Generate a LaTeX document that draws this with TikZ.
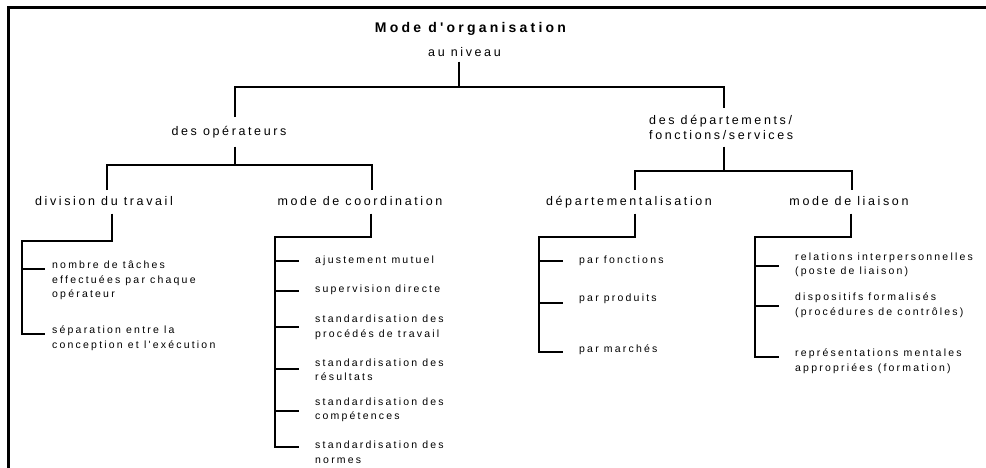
\documentclass[tikz,border=0pt]{standalone}
\usepackage{fontspec}
\setmainfont{Liberation Sans}
\newfontfamily\spfont[LetterSpace=21]{Liberation Sans}
\newfontfamily\tspfont[LetterSpace=23]{Liberation Sans}
\begin{document}
\begin{tikzpicture}[x=1pt,y=-1pt,
  ln/.style={line width=1.5pt},
  ttl/.style={font=\tspfont\bfseries\fontsize{14}{16}\selectfont, inner sep=0pt},
  hd/.style={font=\spfont\fontsize{12.5}{15}\selectfont, inner sep=0pt, text height=9pt, text depth=2.5pt, outer ysep=6pt},
  hd2/.style={font=\spfont\fontsize{12.5}{15}\selectfont, inner sep=0pt, align=left, outer ysep=7pt},
  itm/.style={font=\spfont\fontsize{10.5}{14.5}\selectfont, inner sep=0pt, anchor=west, align=left},
]
\useasboundingbox (0,0) rectangle (986,468);
% frame
\draw[line width=3pt] (8,468) -- (8,8) -- (986,8);

% headings
\node[ttl] (title) at (470.5,29) {Mode d'organisation};
\node[hd, outer ysep=3pt] (auniv) at (464.5,53) {au niveau};
\node[hd, outer ysep=9pt] (ope) at (229,132) {des opérateurs};
\node[hd2, anchor=west] (dep) at (649,127.5) {des départements/\\fonctions/services};
\node[hd] (div) at (104,202) {division du travail};
\node[hd] (coo) at (360,202) {mode de coordination};
\node[hd] (dpt) at (629,202) {départementalisation};
\node[hd] (lia) at (849,202) {mode de liaison};

% items: division du travail
\node[itm] (i1) at (52,280.5) {nombre de tâches\\effectuées par chaque\\opérateur};
\node[itm] (i2) at (52,338) {séparation entre la\\conception et l'exécution};
% items: mode de coordination
\node[itm] (c1) at (315,261) {ajustement mutuel};
\node[itm] (c2) at (315,290) {supervision directe};
\node[itm] (c3) at (315,327.5) {standardisation des\\procédés de travail};
\node[itm] (c4) at (315,369.5) {standardisation des\\résultats};
\node[itm] (c5) at (315,410) {standardisation des\\compétences};
\node[itm] (c6) at (315,452) {standardisation des\\normes};
% items: departementalisation
\node[itm] (p1) at (579,261) {par fonctions};
\node[itm] (p2) at (579,299) {par produits};
\node[itm] (p3) at (579,350) {par marchés};
% items: mode de liaison
\node[itm] (l1) at (795,265) {relations interpersonnelles\\(poste de liaison)};
\node[itm] (l2) at (795,305) {dispositifs formalisés\\(procédures de contrôles)};
\node[itm] (l3) at (795,361) {représentations mentales\\appropriées (formation)};

% level 1
\coordinate (t0) at (459,87);
\coordinate (tl) at (235,87);
\coordinate (tr) at (724,87);
\draw[ln] (auniv.south -| t0) -- (t0);
\draw[ln] (ope.north -| tl) -- (tl) -- (tr) -- (dep.north -| tr);

% level 2
\coordinate (mc) at (235,165);
\coordinate (ml) at (107,165);
\coordinate (mr) at (372,165);
\draw[ln] (ope.south -| mc) -- (mc);
\draw[ln] (div.north -| ml) -- (ml) -- (mr) -- (coo.north -| mr);
\coordinate (nc) at (724,171);
\coordinate (nl) at (635,171);
\coordinate (nr) at (852,171);
\draw[ln] (dep.south -| nc) -- (nc);
\draw[ln] (dpt.north -| nl) -- (nl) -- (nr) -- (lia.north -| nr);

% level 3: division du travail
\coordinate (dj) at (112,241);
\coordinate (ds) at (22,241);
\coordinate (dt1) at (45,269);
\coordinate (dt2) at (45,334);
\draw[ln] (div.south -| dj) -- (dj) -- (ds) -- (ds |- dt2) -- (dt2);
\draw[ln] (ds |- dt1) -- (dt1);

% level 3: mode de coordination
\coordinate (cj) at (371,237);
\coordinate (cs) at (275,237);
\coordinate (ct1) at (299,261);
\coordinate (ct2) at (299,291);
\coordinate (ct3) at (299,327);
\coordinate (ct4) at (299,369);
\coordinate (ct5) at (299,411);
\coordinate (ct6) at (299,447);
\draw[ln] (coo.south -| cj) -- (cj) -- (cs) -- (cs |- ct6) -- (ct6);
\foreach \k in {1,...,5} { \draw[ln] (cs |- ct\k) -- (ct\k); }

% level 3: departementalisation
\coordinate (pj) at (635,237);
\coordinate (ps) at (539,237);
\coordinate (pt1) at (563,261);
\coordinate (pt2) at (563,303);
\coordinate (pt3) at (563,352);
\draw[ln] (dpt.south -| pj) -- (pj) -- (ps) -- (ps |- pt3) -- (pt3);
\draw[ln] (ps |- pt1) -- (pt1);
\draw[ln] (ps |- pt2) -- (pt2);

% level 3: mode de liaison
\coordinate (lj) at (851,237);
\coordinate (ls) at (755,237);
\coordinate (lt1) at (779,266);
\coordinate (lt2) at (779,306);
\coordinate (lt3) at (779,357);
\draw[ln] (lia.south -| lj) -- (lj) -- (ls) -- (ls |- lt3) -- (lt3);
\draw[ln] (ls |- lt1) -- (lt1);
\draw[ln] (ls |- lt2) -- (lt2);
\end{tikzpicture}
\end{document}
